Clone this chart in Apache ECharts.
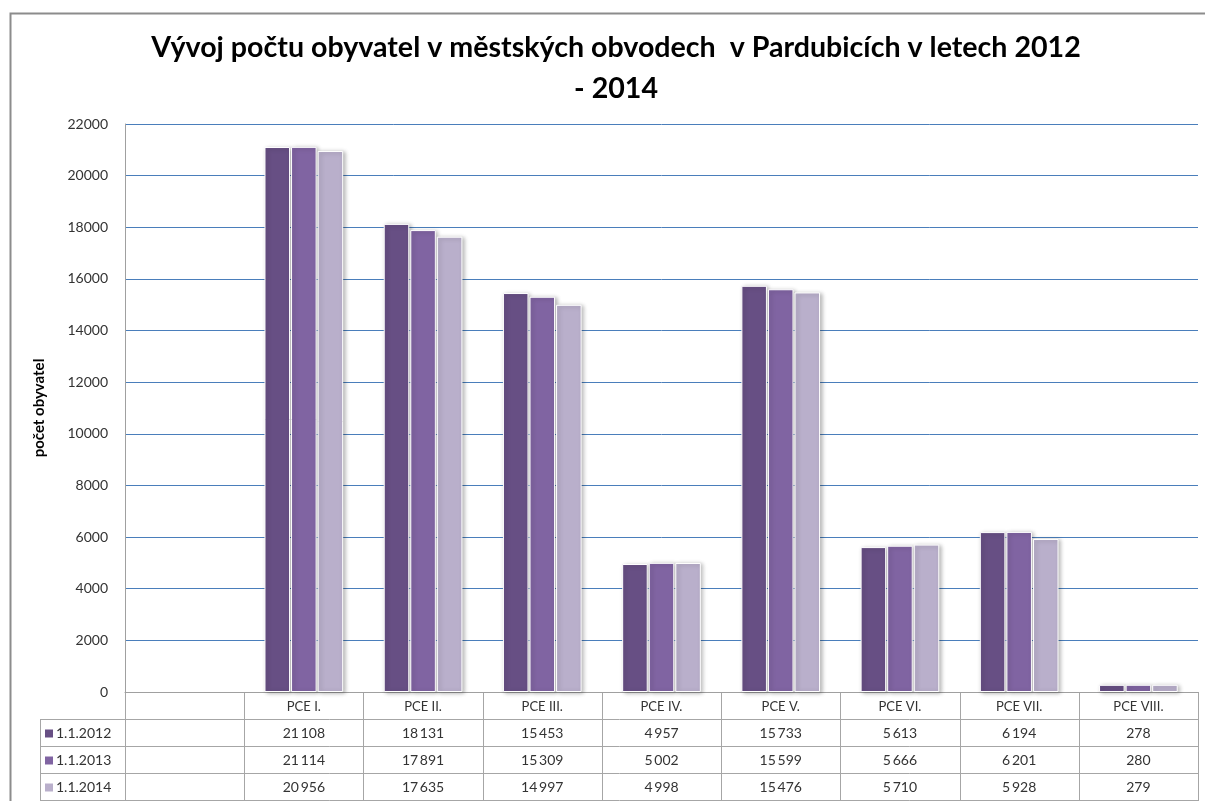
<!DOCTYPE html>
<html><head><meta charset="utf-8">
<script src="https://cdn.jsdelivr.net/npm/echarts@6/dist/echarts.min.js"></script>
<style>html,body{margin:0;padding:0;background:#fff}#c{width:1205px;height:801px}</style>
</head><body><div id="c"></div>
<script>
const categories = ['', 'PCE I.', 'PCE II.', 'PCE III.', 'PCE IV.', 'PCE V.', 'PCE VI.', 'PCE VII.', 'PCE VIII.'];
const seriesNames = ['1.1.2012', '1.1.2013', '1.1.2014'];
const v2012 = [null, 21108, 18131, 15453, 4957, 15733, 5613, 6194, 278];
const v2013 = [null, 21114, 17891, 15309, 5002, 15599, 5666, 6201, 280];
const v2014 = [null, 20956, 17635, 14997, 4998, 15476, 5710, 5928, 279];
const yTicks = [0, 2000, 4000, 6000, 8000, 10000, 12000, 14000, 16000, 18000, 20000, 22000];
const colors = ['#674F84', '#8064A2', '#B9AFCB'];
const allValues = [v2012, v2013, v2014];

const FONT = 'Lato, "Open Sans", sans-serif';
const G = {left: 125, right: 7, top: 124, bottom: 109};
const W = 1205, H = 801;
const plotR = W - G.right, plotB = H - G.bottom;
const rowH = 27;
const tableTop = plotB;
const hdrBottom = tableTop + rowH;
const legLeft = 40;

function fmt(n) {
  if (n == null) return '';
  const s = String(n);
  return s.length > 3 ? s.slice(0, s.length - 3) + '\u2009' + s.slice(-3) : s;
}

const chart = echarts.init(document.getElementById('c'), null, {renderer: 'canvas'});
const option = {
  animation: false,
  backgroundColor: '#fff',
  title: {
    text: 'Vývoj počtu obyvatel v městských obvodech  v Pardubicích v letech 2012\n- 2014',
    left: 611, top: 22, textAlign: 'center',
    textStyle: {fontFamily: FONT, fontSize: 28.6, fontWeight: 'bold', color: '#000', lineHeight: 41}
  },
  grid: {left: G.left, right: G.right, top: G.top, bottom: G.bottom, containLabel: false},
  xAxis: {
    type: 'category', data: categories,
    axisLine: {show: true, lineStyle: {color: '#A0A0A0', width: 1}},
    axisTick: {show: false},
    axisLabel: {interval: 0, fontFamily: FONT, fontSize: 13, color: '#333', margin: 8}
  },
  yAxis: {
    type: 'value', min: yTicks[0], max: yTicks[yTicks.length - 1], interval: 2000,
    name: 'počet obyvatel', nameLocation: 'middle', nameGap: 78, nameRotate: 90,
    nameTextStyle: {fontFamily: FONT, fontSize: 15, fontWeight: 'bold', color: '#000'},
    axisLine: {show: true, lineStyle: {color: '#A0A0A0', width: 1}},
    axisTick: {show: false},
    axisLabel: {fontFamily: FONT, fontSize: 14, color: '#333', margin: 17, formatter: v => String(v)},
    splitLine: {show: true, lineStyle: {color: '#4A7EBB', width: 1}}
  },
  series: seriesNames.map((n, i) => ({
    name: n, type: 'bar', data: allValues[i],
    barGap: '4%', barCategoryGap: '34%',
    itemStyle: {color: colors[i], borderColor: '#fff', borderWidth: 1,
      shadowColor: 'rgba(0,0,0,0.28)', shadowBlur: 4, shadowOffsetX: 2, shadowOffsetY: 1}
  }))
};
chart.setOption(option);

const gfx = [];
const lineStyle = {stroke: '#A6A6A6', lineWidth: 1};
const colEdges = [];
for (let k = 0; k <= categories.length; k++) colEdges.push(G.left + k * (plotR - G.left) / categories.length);
colEdges.forEach((x) => {
  gfx.push({type: 'line', shape: {x1: Math.round(x) + 0.5, y1: tableTop, x2: Math.round(x) + 0.5, y2: H}, style: lineStyle, silent: true});
});
gfx.push({type: 'line', shape: {x1: legLeft + 0.5, y1: hdrBottom, x2: legLeft + 0.5, y2: H}, style: lineStyle, silent: true});
for (let r = 0; r <= 3; r++) {
  const y = hdrBottom + r * rowH + 0.5;
  gfx.push({type: 'line', shape: {x1: legLeft, y1: y, x2: Math.round(plotR) + 1, y2: y}, style: lineStyle, silent: true});
}
gfx.push({type: 'polyline', shape: {points: [[10.5, H], [10.5, 13.5], [W, 13.5]]}, style: {stroke: '#8C8C8C', lineWidth: 2, fill: null}, silent: true});

seriesNames.forEach((n, r) => {
  const cy = hdrBottom + r * rowH + rowH / 2 + 1;
  gfx.push({type: 'rect', shape: {x: 45, y: cy - 4, width: 8, height: 8}, style: {fill: colors[r]}, silent: true});
  gfx.push({type: 'text', x: 56, y: cy, style: {text: n, font: '14px ' + FONT, fill: '#333', align: 'left', verticalAlign: 'middle'}, silent: true});
});

allValues.forEach((vals, r) => {
  vals.forEach((v, c) => {
    if (v == null) return;
    const x = chart.convertToPixel({xAxisIndex: 0}, categories[c]);
    gfx.push({type: 'text', x: x, y: hdrBottom + r * rowH + rowH / 2 + 1,
      style: {text: fmt(v), font: '14px ' + FONT, fill: '#333', align: 'center', verticalAlign: 'middle'}, silent: true});
  });
});
chart.setOption({graphic: {elements: gfx}});
</script></body></html>
